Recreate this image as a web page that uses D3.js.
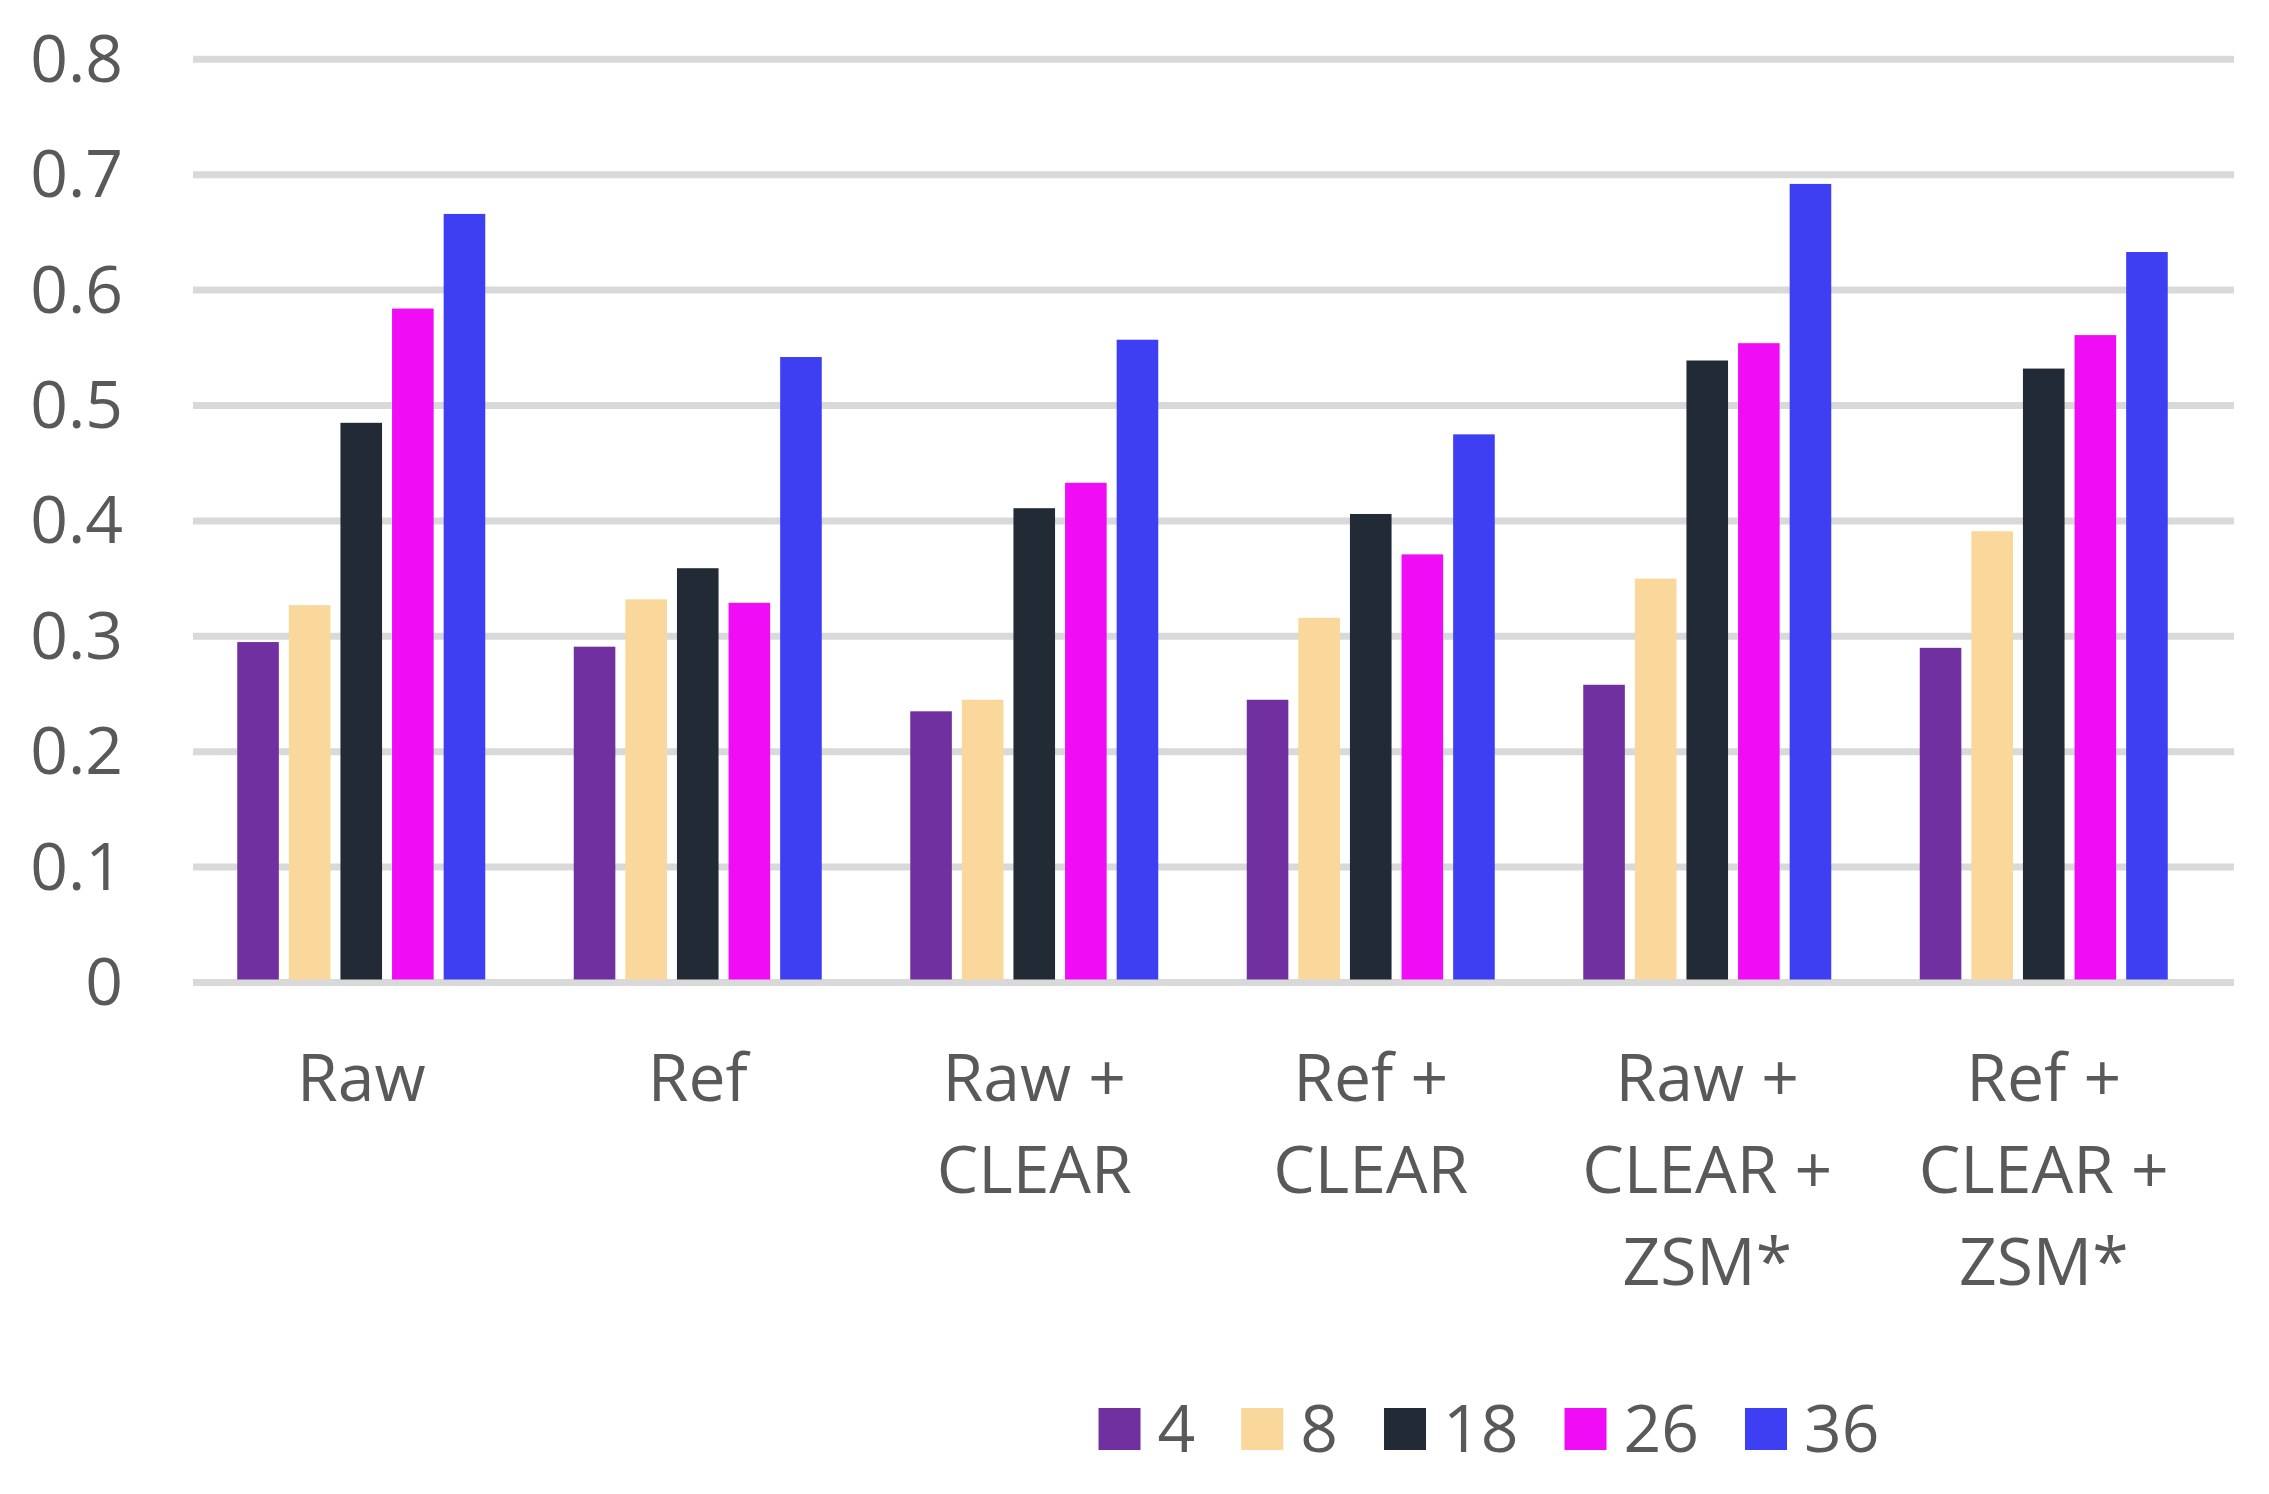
<!DOCTYPE html>
<html>
<head>
<meta charset="utf-8">
<script src="https://cdn.jsdelivr.net/npm/d3@7"></script>
<style>
  html, body { margin: 0; padding: 0; background: #ffffff; }
  svg { display: block; }
  text { font-family: "Open Sans", "Noto Sans", sans-serif; fill: #595959; }
</style>
</head>
<body>
<svg id="chart" width="2269" height="1494"></svg>
<script>
// ---- data ----
const categories = [
  ["Raw"],
  ["Ref"],
  ["Raw +", "CLEAR"],
  ["Ref +", "CLEAR"],
  ["Raw +", "CLEAR +", "ZSM*"],
  ["Ref +", "CLEAR +", "ZSM*"]
];
const seriesNames = ["4", "8", "18", "26", "36"];
const seriesColors = ["#7030A0", "#FAD79A", "#222A35", "#F00DF5", "#3E3EF2"];
const values4  = [0.295, 0.291, 0.235, 0.245, 0.258, 0.290];
const values8  = [0.327, 0.332, 0.245, 0.316, 0.350, 0.391];
const values18 = [0.485, 0.359, 0.411, 0.406, 0.539, 0.532];
const values26 = [0.584, 0.329, 0.433, 0.371, 0.554, 0.561];
const values36 = [0.666, 0.542, 0.557, 0.475, 0.692, 0.633];
const yTicks = [0, 0.1, 0.2, 0.3, 0.4, 0.5, 0.6, 0.7, 0.8];
const yTickLabels = ["0", "0.1", "0.2", "0.3", "0.4", "0.5", "0.6", "0.7", "0.8"];

const seriesValues = [values4, values8, values18, values26, values36];

// ---- layout ----
const svg = d3.select("#chart");
const gridLeft = 193, gridRight = 2234;
const fontSize = 66;

const x0 = d3.scaleBand()
  .domain(d3.range(categories.length))
  .range([193, 2212])
  .paddingInner(0.263)
  .paddingOuter(0.1315);

const x1 = d3.scaleBand()
  .domain(d3.range(seriesNames.length))
  .range([0, x0.bandwidth()])
  .paddingInner(0.194)
  .paddingOuter(0);

const y = d3.scaleLinear().domain([0, 0.8]).range([982.5, 59.3]);

// gridlines
svg.append("g").selectAll("line")
  .data(yTicks)
  .join("line")
  .attr("x1", gridLeft).attr("x2", gridRight)
  .attr("y1", d => y(d)).attr("y2", d => y(d))
  .attr("stroke", "#D9D9D9")
  .attr("stroke-width", 7);

// y axis labels
svg.append("g").selectAll("text")
  .data(yTicks)
  .join("text")
  .attr("x", 123)
  .attr("y", d => y(d) + 22.4)
  .attr("text-anchor", "end")
  .attr("font-size", fontSize)
  .text((d, i) => yTickLabels[i]);

// bars
const groups = svg.append("g").selectAll("g")
  .data(categories.map((c, i) => i))
  .join("g")
  .attr("transform", i => `translate(${x0(i)},0)`);

groups.selectAll("rect")
  .data(i => seriesValues.map((vals, s) => ({ s, v: vals[i] })))
  .join("rect")
  .attr("x", d => x1(d.s))
  .attr("width", x1.bandwidth())
  .attr("y", d => y(d.v))
  .attr("height", d => y(0) - y(d.v) - 3)
  .attr("fill", d => seriesColors[d.s]);

// x category labels
const xl = svg.append("g").selectAll("text")
  .data(categories)
  .join("text")
  .attr("text-anchor", "middle")
  .attr("font-size", fontSize)
  .attr("transform", (d, i) => `translate(${x0(i) + x0.bandwidth() / 2},1101)`);
xl.selectAll("tspan")
  .data(d => d)
  .join("tspan")
  .attr("x", 0)
  .attr("y", (d, j) => j * 92)
  .text(d => d);

// legend
const legend = svg.append("g");
const sq = 42, gapText = 17, gapItem = 46;
let cx = 0;
seriesNames.forEach((name, i) => {
  const g = legend.append("g").attr("transform", `translate(${cx},0)`);
  g.append("rect").attr("x", 0).attr("y", 1408).attr("width", sq).attr("height", sq)
    .attr("fill", seriesColors[i]);
  const t = g.append("text").attr("x", sq + gapText).attr("y", 1451.7)
    .attr("font-size", fontSize).text(name);
  const w = t.node().getComputedTextLength();
  cx += sq + gapText + w + gapItem;
});
const totalW = cx - gapItem;
const legendCenter = 1489;
legend.attr("transform", `translate(${legendCenter - totalW / 2},0)`);
</script>
</body>
</html>
